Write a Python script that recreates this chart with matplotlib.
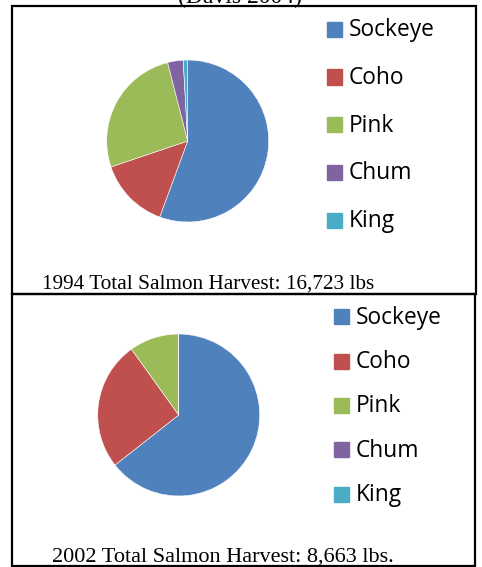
import matplotlib.pyplot as plt
from matplotlib.patches import Rectangle

W, H = 482, 567

species = ['Sockeye', 'Coho', 'Pink', 'Chum', 'King']
colors = ['#4F81BD', '#C0504D', '#9BBB59', '#8064A2', '#4BACC6']
harvest_1994 = [9300, 2375, 4380, 520, 148]
harvest_2002 = [5579, 2226, 858, 0, 0]
captions = ['1994 Total Salmon Harvest: 16,723 lbs',
            '2002 Total Salmon Harvest: 8,663 lbs.']

fig = plt.figure(figsize=(W / 100, H / 100), dpi=100)


def px_axes(cx, cy, r):
    # square axes centred on a pixel position (y from top)
    return fig.add_axes([(cx - r) / W, (H - cy - r) / H, 2 * r / W, 2 * r / H])


def box(x0, y0, x1, y1):
    fig.patches.append(Rectangle((x0 / W, 1 - y1 / H), (x1 - x0) / W, (y1 - y0) / H,
                                 transform=fig.transFigure, fill=False,
                                 edgecolor='black', linewidth=1.6))


def legend(x, y0, step):
    for i, (name, col) in enumerate(zip(species, colors)):
        y = y0 + i * step
        fig.patches.append(Rectangle((x / W, 1 - (y + 7.5) / H), 15 / W, 15 / H,
                                     transform=fig.transFigure, color=col))
        fig.text((x + 22) / W, 1 - (y + 1) / H, name, fontsize=16.4,
                 family='Open Sans', va='center', ha='left')


box(12, 6, 476, 294)
box(12, 294, 475, 566)

fig.text(240 / W, 1 - 3 / H, '(Davis 2004)', family='Liberation Serif',
         fontsize=17, ha='center', va='baseline')

ax1 = px_axes(187.7, 141, 81)
ax1.pie(harvest_1994, colors=colors, startangle=90, counterclock=False,
        wedgeprops=dict(edgecolor='white', linewidth=0.4), radius=1)
ax1.set_xlim(-1, 1)
ax1.set_ylim(-1, 1)

ax2 = px_axes(178.7, 415, 81)
ax2.pie(harvest_2002, colors=colors, startangle=90, counterclock=False,
        wedgeprops=dict(edgecolor='white', linewidth=0.4), radius=1)
ax2.set_xlim(-1, 1)
ax2.set_ylim(-1, 1)

legend(327, 29.3, 47.7)
legend(334, 316.7, 44.4)

fig.text(42 / W, 1 - 289 / H, captions[0], family='Liberation Serif',
         fontsize=15.3, ha='left', va='baseline')
fig.text(52 / W, 1 - 562 / H, captions[1], family='Liberation Serif',
         fontsize=16, ha='left', va='baseline')

fig.savefig('out.png', dpi=100)
